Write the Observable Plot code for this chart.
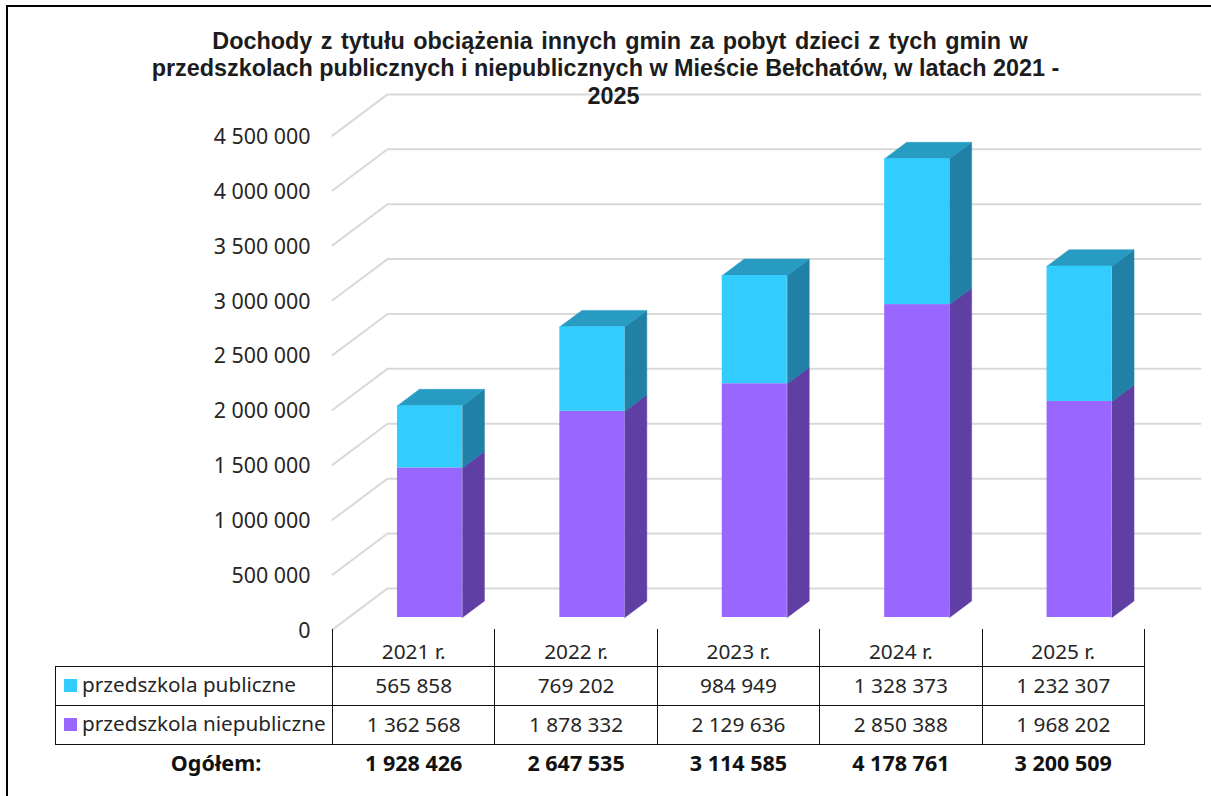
<!DOCTYPE html>
<html lang="pl">
<head>
<meta charset="utf-8">
<script src="https://cdn.jsdelivr.net/npm/d3@7"></script>
<script src="https://cdn.jsdelivr.net/npm/@observablehq/plot@0.6"></script>
<style>
html,body{margin:0;padding:0;background:#fff;width:1211px;height:796px;overflow:hidden}
body{font-family:"Noto Sans",sans-serif;color:#222;position:relative}
#frame{position:absolute;left:6px;top:5px;width:1300px;height:900px;border-left:2px solid #000;border-top:2px solid #000;pointer-events:none}
#title{position:absolute;left:0;width:1211px;top:27.5px;text-align:center;font-family:"Liberation Sans",sans-serif;font-weight:700;font-size:23.4px;line-height:27.5px;color:#1c1c1c;z-index:2}
#title div{white-space:nowrap}
#title .l1{padding-left:29px;word-spacing:2px}
#title .l3{padding-left:16px}
#chart svg{display:block;overflow:visible;font-family:"Noto Sans",sans-serif}
table{position:absolute;left:55px;top:629px;border-collapse:collapse;table-layout:fixed;width:1089px;font-size:20.8px;color:#262626}
td{padding:0;text-align:center;border:1px solid #111;height:38px;line-height:1;white-space:nowrap}
tr.head td{border-top:none;height:37px;padding-top:8px;box-sizing:border-box}
tr.head td:first-child{border:none;border-bottom:1px solid #111}
td.name{text-align:left;padding-left:8px;font-size:20.7px;padding-bottom:2px;box-sizing:border-box}
td.name i{display:inline-block;width:13px;height:13px;margin-right:5px}
tr.total td{border:none;font-weight:700;font-size:21.5px;height:37px;color:#111}
tr.total td:first-child{padding-left:44px;box-sizing:border-box}
</style>
</head>
<body>
<div id="frame"></div>
<div id="title">
<div class="l1">Dochody z tytułu obciążenia innych gmin za pobyt dzieci z tych gmin w</div>
<div>przedszkolach publicznych i niepublicznych w Mieście Bełchatów, w latach 2021 -</div>
<div class="l3">2025</div>
</div>
<div id="chart"></div>
<script>
const years = ["2021 r.", "2022 r.", "2023 r.", "2024 r.", "2025 r."];
const publiczne = [565858, 769202, 984949, 1328373, 1232307];
const niepubliczne = [1362568, 1878332, 2129636, 2850388, 1968202];
const ogolem = [1928426, 2647535, 3114585, 4178761, 3200509];
const yTicks = [0, 500000, 1000000, 1500000, 2000000, 2500000, 3000000, 3500000, 4000000, 4500000];
const seriesNames = ["przedszkola publiczne", "przedszkola niepubliczne"];
const seriesColors = ["#33ccff", "#9966ff"];

const fmt = d3.formatLocale({decimal: ",", thousands: "\u00a0", grouping: [3], currency: ["", ""]}).format(",d");

// 3D projection expressed in scale units
const barStart = 0.4, barWidth = 0.4;
const barDepthX = 0.1355, barDepthY = 150000;
const wallDepthX = 0.3387, wallRiseY = 265000, floorDropY = 110000, gridEndX = 5.345;

const grid = yTicks.flatMap(v => [
  {t: v, x: 0, y: v - floorDropY},
  {t: v, x: wallDepthX, y: v + wallRiseY},
  {t: v, x: gridEndX, y: v + wallRiseY}
]);

const bars = years.map((year, i) => ({
  i, x1: i + barStart, x2: i + barStart + barWidth,
  low: niepubliczne[i], top: niepubliczne[i] + publiczne[i]
}));
const sideFace = (y1, y2) => bars.flatMap(b => [
  {id: b.i, x: b.x2, y: y1(b)},
  {id: b.i, x: b.x2 + barDepthX, y: y1(b) + barDepthY},
  {id: b.i, x: b.x2 + barDepthX, y: y2(b) + barDepthY},
  {id: b.i, x: b.x2, y: y2(b)}
]);
const topFace = bars.flatMap(b => [
  {id: b.i, x: b.x1, y: b.top},
  {id: b.i, x: b.x1 + barDepthX, y: b.top + barDepthY},
  {id: b.i, x: b.x2 + barDepthX, y: b.top + barDepthY},
  {id: b.i, x: b.x2, y: b.top}
]);
const polygon = (rows, fill) => Plot.line(rows, {x: "x", y: "y", z: "id", fill, stroke: fill, strokeWidth: 0.5, curve: "linear-closed"});

const chart = Plot.plot({
  width: 1211, height: 629,
  marginLeft: 332, marginRight: 67, marginTop: 123, marginBottom: 12,
  x: {domain: [0, 5], axis: null},
  y: {domain: [0, 4500000], axis: null},
  marks: [
    Plot.line(grid, {x: "x", y: "y", z: "t", stroke: "#d9d9d9", strokeWidth: 2}),
    polygon(sideFace(b => 0, b => b.low), "#603fa5"),
    polygon(sideFace(b => b.low, b => b.top), "#2080a5"),
    polygon(topFace, "#279bc2"),
    Plot.rectY(bars, {x1: "x1", x2: "x2", y1: 0, y2: "low", fill: seriesColors[1]}),
    Plot.rectY(bars, {x1: "x1", x2: "x2", y1: "low", y2: "top", fill: seriesColors[0]}),
    Plot.axisY({ticks: yTicks, anchor: "left", tickSize: 0, tickPadding: 22, dy: 13.5, tickFormat: fmt, fontSize: 21.4, fill: "#262626", label: null})
  ]
});
document.getElementById("chart").append(chart);

// data table below the chart
const table = document.createElement("table");
const colgroup = `<colgroup><col style="width:277px">${years.map(() => '<col style="width:162.4px">').join("")}</colgroup>`;
const row = (cls, first, cells) => `<tr class="${cls}"><td${cls === "" ? ' class="name"' : ""}>${first}</td>${cells.map(c => `<td>${c}</td>`).join("")}</tr>`;
table.innerHTML = colgroup
  + row("head", "", years)
  + row("", `<i style="background:${seriesColors[0]}"></i>${seriesNames[0]}`, publiczne.map(fmt))
  + row("", `<i style="background:${seriesColors[1]}"></i>${seriesNames[1]}`, niepubliczne.map(fmt))
  + row("total", "Ogółem:", ogolem.map(fmt));
document.body.append(table);
</script>
</body>
</html>
